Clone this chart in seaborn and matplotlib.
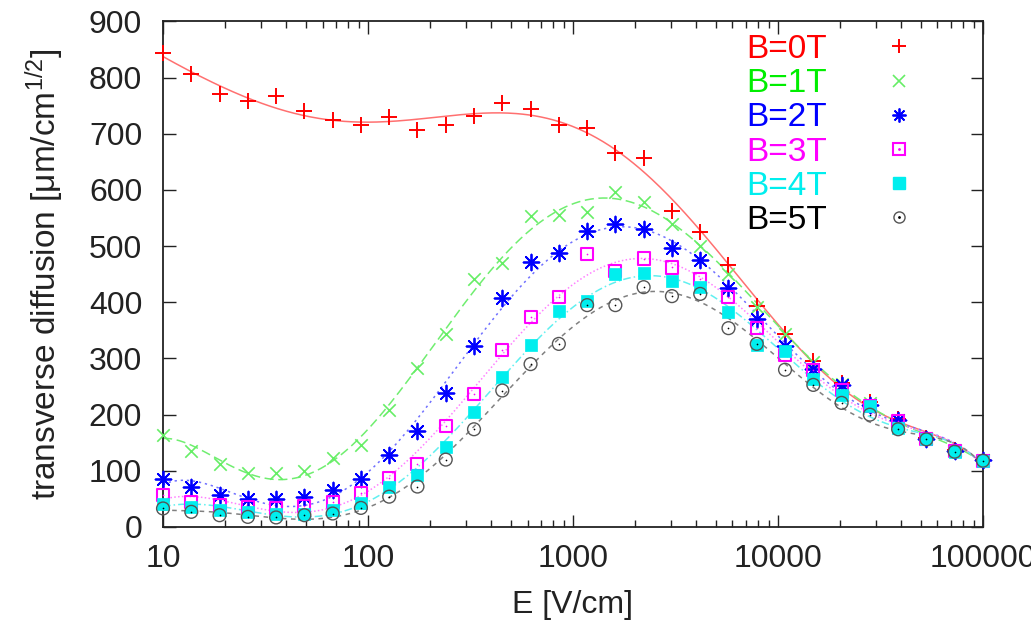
import numpy as np
import matplotlib
matplotlib.use('Agg')
import matplotlib.pyplot as plt
import seaborn as sns
from matplotlib.lines import Line2D
from matplotlib.markers import MarkerStyle
from matplotlib.ticker import LogLocator, NullFormatter
from matplotlib.legend_handler import HandlerTuple

# field values (V/cm), evenly spaced in log
E = [10, 13.74, 18.87, 25.93, 35.62, 48.94, 67.23, 92.37, 126.9, 174.3,
     239.5, 329.0, 452.0, 621.0, 853.2, 1172, 1610, 2212, 3039, 4175,
     5736, 7880, 10826, 14874, 20434, 28072, 38566, 52983, 72790, 100000]

# transverse diffusion (um/sqrt(cm)) for each magnetic field
b0 = [844, 806, 771, 759, 767, 741, 724, 716, 730, 707, 715, 732, 755, 744, 715,
      710, 666, 657, 563, 526, 466, 393, 344, 296, 257, 223, 192, 158, 137, 119]
b1 = [164, 136, 113, 97, 96, 100, 122, 146, 209, 283, 344, 441, 470, 553, 555,
      560, 596, 579, 540, 500, 450, 392, 344, 294, 254, 221, 191, 158, 137, 119]
b2 = [85, 71, 57, 49, 49, 54, 66, 85, 129, 171, 238, 322, 407, 471, 487,
      527, 539, 530, 496, 476, 425, 370, 322, 281, 253, 218, 191, 157, 136, 119]
b3 = [57, 45, 39, 36, 34, 37, 45, 60, 88, 113, 180, 237, 315, 374, 410,
      486, 455, 478, 462, 441, 410, 354, 306, 280, 244, 216, 188, 156, 135, 118]
b4 = [41, 36, 31, 27, 23, 24, 31, 42, 71, 92, 143, 205, 267, 324, 384,
      402, 450, 453, 438, 427, 383, 324, 314, 263, 235, 215, 176, 156, 134, 118]
b5 = [33, 27, 21, 18, 17, 21, 24, 34, 54, 72, 120, 174, 243, 290, 326,
      395, 395, 427, 411, 415, 354, 326, 280, 253, 221, 200, 174, 156, 134, 118]

labels = ['B=0T', 'B=1T', 'B=2T', 'B=3T', 'B=4T', 'B=5T']
colors = ['#ff0000', '#00ee00', '#0000ff', '#ff00ff', '#00eeee', '#000000']
xticks = [10, 100, 1000, 10000, 100000]
xtick_labels = ['10', '100', '1000', '10000', '100000']
yticks = list(range(0, 1000, 100))

sns.set_style('ticks')
plt.rcParams['font.family'] = ['Liberation Sans', 'DejaVu Sans']
plt.rcParams['mathtext.fontset'] = 'custom'
plt.rcParams['mathtext.rm'] = 'Liberation Sans'
plt.rcParams['mathtext.it'] = 'Liberation Sans:italic'

fig = plt.figure(figsize=(10.31, 6.30), dpi=100)
ax = fig.add_axes([0.1581, 0.1635, 0.7953, 0.8024])

series = [b0, b1, b2, b3, b4, b5]
line_styles = ['-', (0, (6, 3)), (0, (1.5, 2.5)), (0, (1, 1.5)), (0, (5, 2, 1, 2)), (0, (3, 3))]
line_colors = ['#ff7070', '#70ee70', '#7070ff', '#ff80ff', '#60f0f0', '#808080']

# smooth fit curves (polynomial in log E)
logE = np.log10(E)
grid = np.logspace(1, 5, 400)
for vals, lc, ls in zip(series, line_colors, line_styles):
    p = np.polynomial.Polynomial.fit(logE, vals, 7)
    sns.lineplot(x=grid, y=p(np.log10(grid)), color=lc, linestyle=ls,
                 linewidth=1.1, ax=ax, zorder=2)

# data points
pts = dict(ax=ax, zorder=3, clip_on=False)
sns.scatterplot(x=E, y=b0, marker='+', s=130, color=colors[0], linewidth=1.4, **pts)
sns.scatterplot(x=E, y=b1, marker='x', s=80, color='#66ee66', linewidth=1.2, **pts)
sns.scatterplot(x=E, y=b2, marker=(8, 2, 0), s=130, color=colors[2], linewidth=1.3, **pts)
sns.scatterplot(x=E, y=b3, marker=MarkerStyle('s', fillstyle='none'), s=75,
                color=colors[3], linewidth=1.5, **pts)
sns.scatterplot(x=E, y=b3, marker='.', s=6, color=colors[3], linewidth=0, **pts)
sns.scatterplot(x=E, y=b4, marker='s', s=85, color=colors[4], edgecolor=colors[4],
                linewidth=0.5, **pts)
sns.scatterplot(x=E, y=b5, marker=MarkerStyle('o', fillstyle='none'), s=85,
                color='#555555', linewidth=1.0, **pts)
sns.scatterplot(x=E, y=b5, marker='.', s=6, color='#000000', linewidth=0, **pts)

ax.set_xscale('log')
ax.set_xlim(10, 100000)
ax.set_ylim(0, 900)
ax.set_xticks(xticks)
ax.set_xticklabels(xtick_labels)
ax.xaxis.set_minor_locator(LogLocator(base=10, subs=range(2, 10)))
ax.xaxis.set_minor_formatter(NullFormatter())
ax.set_yticks(yticks)
ax.tick_params(which='both', direction='in', top=True, right=True,
               labelsize=23, colors='#222222')
ax.tick_params(which='major', length=9, width=1.0)
ax.tick_params(which='minor', length=5, width=1.0)
ax.tick_params(axis='y', pad=15)
ax.tick_params(axis='x', pad=12)
for sp in ax.spines.values():
    sp.set_linewidth(1.3)
    sp.set_color('#222222')

ax.set_xlabel('E [V/cm]', fontsize=23, color='#222222')
ax.set_ylabel('transverse diffusion [μm/cm$^{1/2}$]', fontsize=24, color='#222222')
ax.xaxis.set_label_coords(0.5, -0.125)
ax.yaxis.set_label_coords(-0.118, 0.5)

# legend: label first, then marker sample
h = [
    Line2D([], [], ls='none', marker='+', color=colors[0], ms=10, mew=1.4),
    Line2D([], [], ls='none', marker='x', color='#66ee66', ms=8, mew=1.2),
    Line2D([], [], ls='none', marker=(8, 2, 0), color=colors[2], ms=10, mew=1.3),
    (Line2D([], [], ls='none', marker='s', mfc='none', mec=colors[3], ms=8, mew=1.5),
     Line2D([], [], ls='none', marker='.', color=colors[3], ms=2)),
    Line2D([], [], ls='none', marker='s', color=colors[4], ms=9),
    (Line2D([], [], ls='none', marker='o', mfc='none', mec='#555555', ms=8, mew=1.0),
     Line2D([], [], ls='none', marker='.', color='#000000', ms=2)),
]
ax.legend(h, labels, loc='upper right', bbox_to_anchor=(0.942, 0.975),
          markerfirst=False, frameon=False, fontsize=24, labelcolor=colors,
          handlelength=2.2, handletextpad=1.05, labelspacing=0.095,
          borderpad=0, borderaxespad=0,
          handler_map={tuple: HandlerTuple(ndivide=1)})

plt.savefig('out.png', dpi=100)
plt.close()
